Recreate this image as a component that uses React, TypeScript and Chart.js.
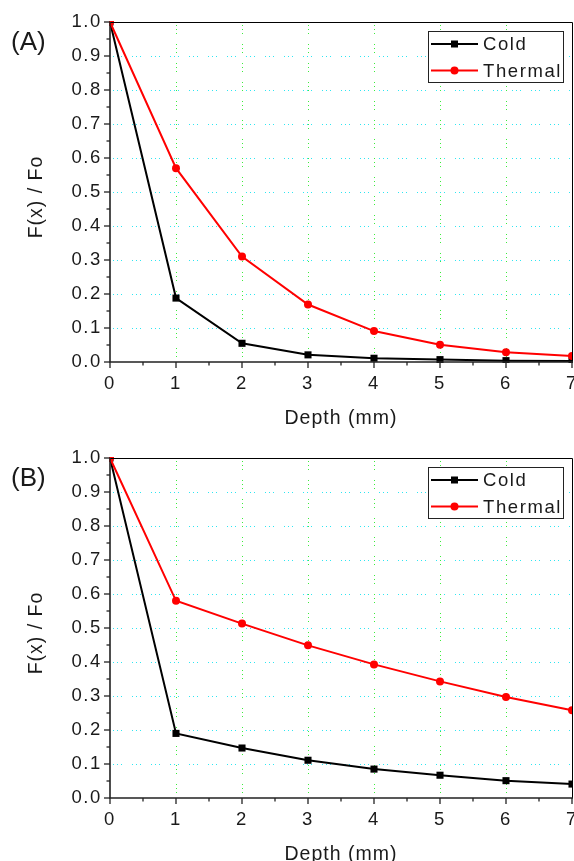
import React, { useEffect, useRef } from "react";
import { Chart, registerables } from "chart.js";

Chart.register(...registerables);

const depth = [0, 1, 2, 3, 4, 5, 6, 7];
const coldA = [1.0, 0.188, 0.055, 0.021, 0.011, 0.007, 0.004, 0.003];
const thermalA = [1.0, 0.57, 0.31, 0.169, 0.091, 0.051, 0.029, 0.018];
const coldB = [1.0, 0.19, 0.147, 0.111, 0.085, 0.067, 0.051, 0.041];
const thermalB = [1.0, 0.58, 0.513, 0.449, 0.393, 0.343, 0.297, 0.258];
const seriesNames = ["Cold", "Thermal"];
const panelLabels = ["(A)", "(B)"];
const yTitle = "F(x) / Fo";
const xTitle = "Depth (mm)";
const xTicks = [0, 1, 2, 3, 4, 5, 6, 7];
const yTicks = [0, 0.1, 0.2, 0.3, 0.4, 0.5, 0.6, 0.7, 0.8, 0.9, 1.0];

const FONT = '"Liberation Sans", Arial, sans-serif';
const TXT = "#1a1a1a";
const CW = 600;

function makeDecor(label: string) {
  return {
    id: "decor",
    beforeDraw(chart: any) {
      chart.ctx.letterSpacing = "1.6px";
    },
    beforeDatasetsDraw(chart: any) {
      const { ctx, chartArea: a, scales } = chart;
      const x = scales.x;
      const y = scales.y;
      ctx.save();
      ctx.letterSpacing = "0px";
      ctx.lineWidth = 1;
      ctx.setLineDash([1, 3, 1, 3, 1, 10]);
      ctx.strokeStyle = "#2ee6f2";
      yTicks.forEach((v) => {
        if (v <= 0 || v >= 1) return;
        const py = Math.round(y.getPixelForValue(v)) + 0.5;
        ctx.beginPath();
        ctx.moveTo(a.left + 3, py);
        ctx.lineTo(a.right, py);
        ctx.stroke();
      });
      ctx.strokeStyle = "#3cec3c";
      xTicks.forEach((v) => {
        if (v <= 0 || v >= 7) return;
        const px = Math.round(x.getPixelForValue(v)) + 0.5;
        ctx.beginPath();
        ctx.moveTo(px, a.top + 3);
        ctx.lineTo(px, a.bottom);
        ctx.stroke();
      });
      ctx.restore();
    },
    afterDatasetsDraw(chart: any) {
      const { ctx, chartArea: a, scales } = chart;
      const x = scales.x;
      const y = scales.y;
      ctx.save();
      ctx.setLineDash([]);
      ctx.strokeStyle = "#000";
      ctx.lineWidth = 1;
      ctx.beginPath();
      ctx.moveTo(a.left, a.top + 0.5);
      ctx.lineTo(a.right + 0.5, a.top + 0.5);
      ctx.lineTo(a.right + 0.5, a.bottom);
      ctx.stroke();
      ctx.strokeStyle = "#222";
      ctx.lineWidth = 1.6;
      ctx.beginPath();
      ctx.moveTo(a.left, a.top);
      ctx.lineTo(a.left, a.bottom);
      ctx.lineTo(a.right + 1, a.bottom);
      ctx.stroke();
      ctx.lineWidth = 1.3;
      for (let i = 0; i < yTicks.length; i++) {
        const v = yTicks[i];
        const py = y.getPixelForValue(v);
        ctx.beginPath();
        ctx.moveTo(a.left, py);
        ctx.lineTo(a.left - 6, py);
        ctx.stroke();
        if (i < yTicks.length - 1) {
          const pm = y.getPixelForValue((v + yTicks[i + 1]) / 2);
          ctx.beginPath();
          ctx.moveTo(a.left, pm);
          ctx.lineTo(a.left - 3.5, pm);
          ctx.stroke();
        }
      }
      for (let i = 0; i < xTicks.length; i++) {
        const v = xTicks[i];
        const px = x.getPixelForValue(v);
        ctx.beginPath();
        ctx.moveTo(px, a.bottom);
        ctx.lineTo(px, a.bottom + 6);
        ctx.stroke();
        if (i < xTicks.length - 1) {
          const pm = x.getPixelForValue((v + xTicks[i + 1]) / 2);
          ctx.beginPath();
          ctx.moveTo(pm, a.bottom);
          ctx.lineTo(pm, a.bottom + 3.5);
          ctx.stroke();
        }
      }
      const lx = 428.5;
      const ly = a.top + 9.5;
      const lw = 135;
      const lh = 51;
      ctx.fillStyle = "#fff";
      ctx.fillRect(lx, ly, lw, lh);
      ctx.strokeStyle = "#222";
      ctx.lineWidth = 1;
      ctx.strokeRect(lx, ly, lw, lh);
      const ds = chart.data.datasets;
      const rows = [ly + 12.5, ly + 39];
      ds.forEach((d: any, i: number) => {
        const yy = rows[i];
        ctx.strokeStyle = d.borderColor;
        ctx.lineWidth = 2;
        ctx.beginPath();
        ctx.moveTo(431, yy);
        ctx.lineTo(478, yy);
        ctx.stroke();
        ctx.fillStyle = d.borderColor;
        if (d.pointStyle === "rect") {
          ctx.fillRect(451, yy - 3.5, 7, 7);
        } else {
          ctx.beginPath();
          ctx.arc(454.5, yy, 4, 0, Math.PI * 2);
          ctx.fill();
        }
        ctx.fillStyle = TXT;
        ctx.font = `18.5px ${FONT}`;
        ctx.letterSpacing = "1.6px";
        ctx.textAlign = "left";
        ctx.textBaseline = "middle";
        ctx.fillText(d.label, 483, yy + 1);
      });
      ctx.fillStyle = TXT;
      ctx.font = `26px ${FONT}`;
      ctx.letterSpacing = "0px";
      ctx.textAlign = "left";
      ctx.textBaseline = "alphabetic";
      ctx.fillText(label, 11, a.top + 28);
      ctx.font = `19.5px ${FONT}`;
      ctx.letterSpacing = "1px";
      ctx.textAlign = "center";
      ctx.fillText(xTitle, (a.left + a.right) / 2, a.bottom + 62);
      ctx.save();
      ctx.translate(41.5, (a.top + a.bottom) / 2 + 5);
      ctx.rotate(-Math.PI / 2);
      ctx.fillText(yTitle, 0, 0);
      ctx.restore();
      ctx.restore();
    },
  };
}

function Panel(props: { top: number; height: number; cold: number[]; thermal: number[]; label: string }) {
  const ref = useRef<HTMLCanvasElement>(null);
  useEffect(() => {
    const xh = props.height - 362;
    const chart = new Chart(ref.current as HTMLCanvasElement, {
      type: "line",
      data: {
        datasets: [
          {
            label: seriesNames[0],
            data: depth.map((d, i) => ({ x: d, y: props.cold[i] })),
            borderColor: "#000000",
            backgroundColor: "#000000",
            borderWidth: 2,
            pointStyle: "rect",
            pointRadius: 5,
            pointBorderWidth: 0,
            order: 1,
            clip: 1,
          },
          {
            label: seriesNames[1],
            data: depth.map((d, i) => ({ x: d, y: props.thermal[i] })),
            borderColor: "#ff0000",
            backgroundColor: "#ff0000",
            borderWidth: 2,
            pointStyle: "circle",
            pointRadius: 4,
            pointBorderWidth: 0,
            order: 0,
            clip: 1,
          },
        ],
      } as any,
      options: {
        animation: false,
        responsive: false,
        devicePixelRatio: 1,
        layout: { padding: { left: 0, top: 22, right: CW - 572, bottom: 0 } },
        plugins: { legend: { display: false }, tooltip: { enabled: false }, title: { display: false } },
        scales: {
          x: {
            type: "linear",
            min: 0,
            max: 7,
            afterFit: (s: any) => {
              s.height = xh;
            },
            afterBuildTicks: (s: any) => {
              s.ticks = xTicks.map((v) => ({ value: v }));
            },
            grid: { display: false, drawTicks: false },
            border: { display: false },
            ticks: {
              font: { family: FONT, size: 18.5 },
              color: TXT,
              padding: 11,
              maxRotation: 0,
              autoSkip: false,
            },
          },
          y: {
            type: "linear",
            min: 0,
            max: 1,
            afterFit: (s: any) => {
              s.width = 110;
            },
            afterBuildTicks: (s: any) => {
              s.ticks = yTicks.map((v) => ({ value: v }));
            },
            grid: { display: false, drawTicks: false },
            border: { display: false },
            ticks: {
              font: { family: FONT, size: 18.5 },
              color: TXT,
              padding: 8,
              autoSkip: false,
              callback: (v: any) => Number(v).toFixed(1),
            },
          },
        },
      } as any,
      plugins: [makeDecor(props.label)],
    });
    return () => chart.destroy();
  }, []);
  return (
    <canvas
      ref={ref}
      width={CW}
      height={props.height}
      style={{ position: "absolute", left: 0, top: props.top, display: "block", width: CW, height: props.height }}
    />
  );
}

export default function App() {
  return (
    <div
      style={{
        position: "absolute",
        left: 0,
        top: 0,
        width: 574,
        height: 861,
        overflow: "hidden",
        background: "#fff",
      }}
    >
      <Panel top={0} height={436} cold={coldA} thermal={thermalA} label={panelLabels[0]} />
      <Panel top={436} height={425} cold={coldB} thermal={thermalB} label={panelLabels[1]} />
    </div>
  );
}
